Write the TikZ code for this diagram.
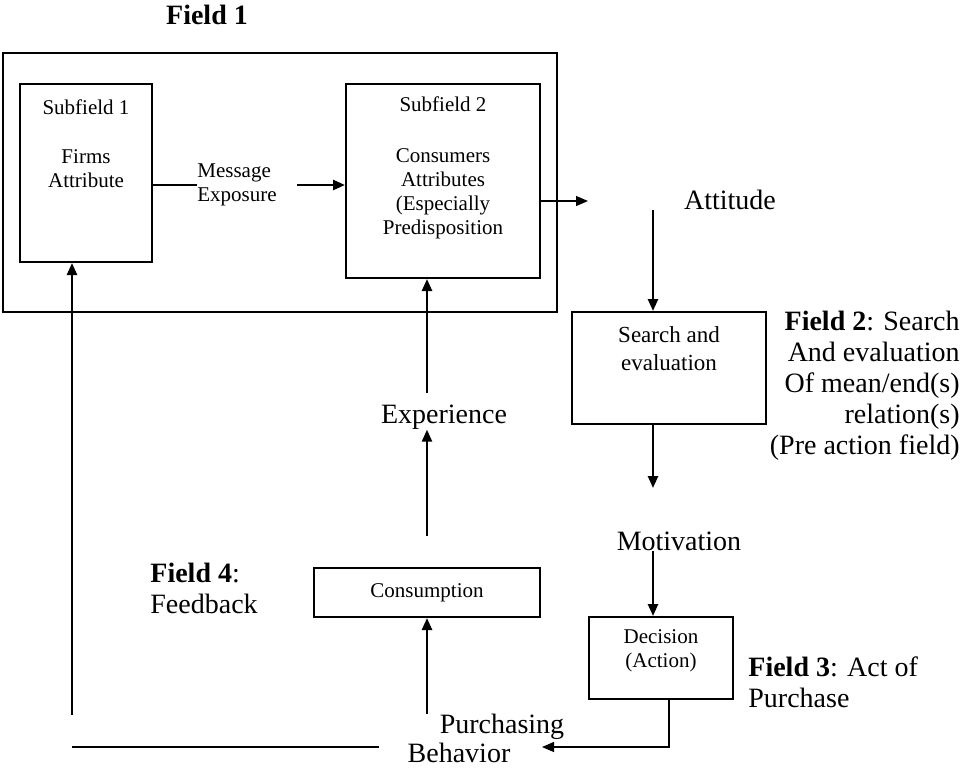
\documentclass[tikz,border=0pt]{standalone}
\usepackage{fontspec}
\setmainfont{Liberation Serif}
\usetikzlibrary{arrows.meta}

\begin{document}
\begin{tikzpicture}[x=0.5pt, y=-0.5pt,
  box/.style={draw, line width=1pt, inner sep=0pt},
  small/.style={font=\fontsize{10.5}{12}\selectfont, align=center, inner sep=0pt},
  big/.style={font=\fontsize{14}{15.5}\selectfont, inner sep=0pt},
  arr/.style={-{Triangle[length=6pt,width=5pt]}, line width=1.2pt},
  thinarr/.style={-{Triangle[length=6pt,width=5pt]}, line width=0.6pt}]
\useasboundingbox (0,0) rectangle (966,768);

% Field 1
\node[big, font=\fontsize{14}{15.5}\selectfont\bfseries] (f1) at (207,15) {Field 1};
\node[box, minimum width=277pt, minimum height=129.5pt] (field1) at (280,182.5) {};
\node[box, minimum width=66pt, minimum height=89pt] (sf1) at (86,173) {};
\node[small] (sf1txt) at (86,144) {Subfield 1\\[12.5pt]Firms\\Attribute};
\node[small, align=left, anchor=west] (msg) at (197,185) {Message\\Exposure};
\node[box, minimum width=97pt, minimum height=97pt] (sf2) at (443,181) {};
\node[small] (sf2txt) at (443,167.5) {Subfield 2\\[13.5pt]Consumers\\Attributes\\(Especially\\Predisposition};

% Field 2
\node[big] (att) at (730,200) {Attitude};
\node[box, minimum width=97pt, minimum height=56pt] (srch) at (669,368) {};
\node[small, font=\fontsize{11.5}{14}\selectfont] (srchtxt) at (669,349) {Search and\\evaluation};
\node[big, align=right, anchor=east] (f2) at (960,386) {\textbf{Field 2}: Search\\And evaluation\\Of mean/end(s)\\relation(s)\\(Pre action field)};
\node[big] (mot) at (679,541) {Motivation};

% Field 3
\node[box, minimum width=72pt, minimum height=41pt] (dec) at (661,658) {};
\node[small] (dectxt) at (661,650.5) {Decision\\(Action)};
\node[big, align=left, anchor=west] (f3) at (748,682) {\textbf{Field 3}: Act of\\Purchase};
\node[big] (purch) at (502,727) {Purchasing};
\node[big] (behav) at (459,753) {Behavior};

% Field 4
\node[box, small, minimum width=113pt, minimum height=24.5pt] (cons) at (427,592.5) {Consumption};
\node[big] (exp) at (444,417) {Experience};
\node[big, align=left, anchor=west] (f4) at (150,588) {\textbf{Field 4}:\\Feedback};

% Free ends
\coordinate (attin) at (588,201);
\coordinate (spine) at (653,0);
\coordinate (fbl) at (72,747);
\coordinate (fbr) at (379,747);
\coordinate (pbend) at (542,747);

% Arrows
\draw[line width=1pt] (msg.west -| sf1.east) -- (msg.west);
\draw[arr] ([xshift=10pt]msg.east) -- (msg.east -| sf2.west);
\draw[thinarr] ([yshift=-10pt]sf2.east) -- (attin);
\draw[arr] (att.south -| spine) -- (srch.north -| spine);
\draw[arr] (srch.south -| spine) -- ++(0,63);
\draw[arr] (mot.south -| spine) -- (dec.north -| spine);
\draw[thinarr] ([xshift=4pt]dec.south) |- (pbend);
\draw[arr] (cons.south |- purch.north) -- (cons.south);
\draw[arr] (cons.north) ++(0,-31) -- (cons.north |- exp.south);
\draw[arr] (exp.north -| cons.north) ++(0,-11) -- (cons.north |- sf2.south);
\draw[line width=0.6pt] (fbl) -- (fbr);
\draw[arr] ([yshift=16pt]fbl) -- (fbl |- sf1.south);

\end{tikzpicture}
\end{document}
